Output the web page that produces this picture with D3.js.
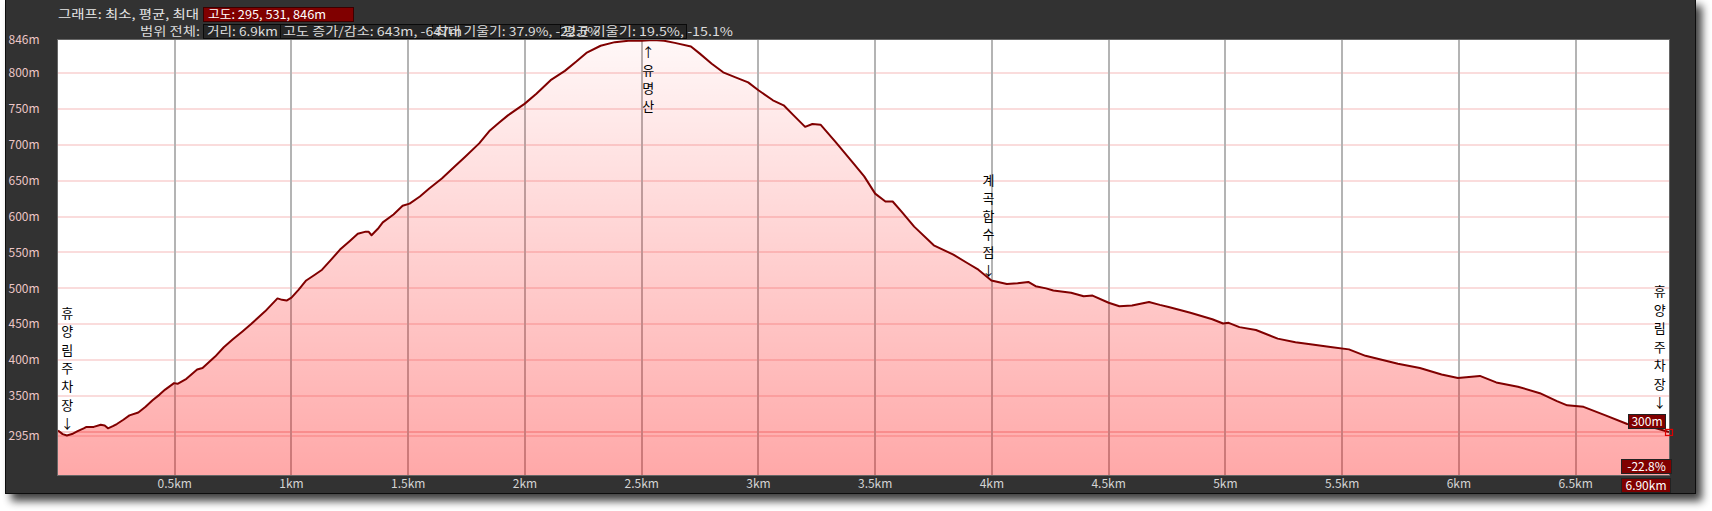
<!DOCTYPE html>
<html><head><meta charset="utf-8">
<script src="https://cdn.jsdelivr.net/npm/d3@7"></script>
<style>html,body{margin:0;padding:0;background:#fff;overflow:hidden}</style>
</head><body><svg id="c" width="1712" height="511"></svg>
<script>
// ---- data ----
const distKm = [0.000,0.020,0.038,0.060,0.084,0.110,0.122,0.153,0.183,0.200,0.214,0.235,0.252,0.280,0.306,0.344,0.375,0.405,0.435,0.459,0.497,0.512,0.550,0.596,0.619,0.673,0.710,0.749,0.790,0.826,0.860,0.887,0.940,0.960,0.979,1.000,1.030,1.063,1.100,1.131,1.170,1.208,1.250,1.284,1.318,1.330,1.343,1.370,1.391,1.437,1.476,1.506,1.550,1.590,1.644,1.700,1.743,1.804,1.850,1.890,1.927,1.998,2.049,2.110,2.171,2.220,2.263,2.324,2.385,2.443,2.500,2.550,2.596,2.642,2.711,2.749,2.800,2.849,2.902,2.956,3.000,3.062,3.108,3.154,3.200,3.231,3.266,3.330,3.407,3.453,3.500,3.544,3.575,3.613,3.667,3.751,3.835,3.896,3.942,3.998,4.064,4.110,4.156,4.187,4.232,4.263,4.339,4.393,4.431,4.500,4.546,4.600,4.673,4.719,4.757,4.850,4.944,4.990,5.014,5.060,5.131,5.224,5.300,5.364,5.458,5.529,5.600,5.739,5.833,5.926,5.996,6.090,6.160,6.253,6.347,6.420,6.464,6.534,6.628,6.721,6.815,6.900];
const elevM = [302,297,295,297,301,305,307,307,310,309,305,308,311,317,323,327,335,344,352,359,368,367,374,387,389,405,418,429,440,450,460,468,486,484,483,487,498,511,519,526,540,554,566,576,579,579,574,583,592,603,615,618,628,639,653,670,683,702,720,731,741,757,771,790,803,816,828,838,843,845,845,846,845,842,837,827,813,801,794,787,776,762,755,740,725,729,728,704,674,656,632,621,621,607,586,560,547,535,526,511,506,507,509,503,500,497,494,489,490,480,475,476,481,477,474,466,457,451,452,446,442,430,425,422,418,415,406,395,389,380,375,378,369,363,354,343,337,335,323,311,308,300];
const xTicks = [0.5,1,1.5,2,2.5,3,3.5,4,4.5,5,5.5,6,6.5];
const xTickLabels = ["0.5km","1km","1.5km","2km","2.5km","3km","3.5km","4km","4.5km","5km","5.5km","6km","6.5km"];
const yTicks = [295,350,400,450,500,550,600,650,700,750,800,846];
const yTickLabels = ["295m","350m","400m","450m","500m","550m","600m","650m","700m","750m","800m","846m"];
const yGrid = [295,300,350,400,450,500,550,600,650,700,750,800];
const annoText = ["휴양림주차장↓","↑유명산","계곡합수점↓","휴양림주차장↓"];
const annoKm = [0.04,2.528,3.985,6.86];
const header1 = ["그래프: 최소, 평균, 최대","고도: 295, 531, 846m"];
const header2 = ["범위 전체:","거리: 6.9km","고도 증가/감소: 643m, -647m","최대 기울기: 37.9%, -22.5%","평균 기울기: 19.5%, -15.1%"];
const endLabels = ["300m","-22.8%","6.90km"];
const endElev = 300;

// ---- layout ----
const FONT = "'Noto Sans CJK KR','Noto Sans',sans-serif";
const L = 58, R = 1669, T = 40, B = 475;
const svg = d3.select("#c");
const x = d3.scaleLinear().domain([0, 6.9]).range([L, R]);
const y = d3.scaleLinear().domain([240, 846]).range([B, T]);

const defs = svg.append("defs");
const f = defs.append("filter").attr("id","sh").attr("x","-5%").attr("y","-10%").attr("width","110%").attr("height","130%");
f.append("feGaussianBlur").attr("in","SourceAlpha").attr("stdDeviation",4);
f.append("feOffset").attr("dx",6).attr("dy",7).attr("result","b");
f.append("feComponentTransfer").append("feFuncA").attr("type","linear").attr("slope",0.75);
const m = f.append("feMerge"); m.append("feMergeNode"); m.append("feMergeNode").attr("in","SourceGraphic");

const g = defs.append("linearGradient").attr("id","fillg").attr("gradientUnits","userSpaceOnUse")
  .attr("x1",0).attr("y1",T).attr("x2",0).attr("y2",B);
g.append("stop").attr("offset","0").attr("stop-color","#ff0000").attr("stop-opacity",0.03);
g.append("stop").attr("offset","1").attr("stop-color","#ff0000").attr("stop-opacity",0.34);

// frame
svg.append("rect").attr("x",5.5).attr("y",-1).attr("width",1690).attr("height",494.5)
  .attr("fill","#333").attr("stroke","#111").attr("filter","url(#sh)");

// plot bg
svg.append("rect").attr("x",L).attr("y",T).attr("width",R-L).attr("height",B-T).attr("fill","#fff");

// grid
svg.append("g").selectAll("line").data(yGrid).join("line")
  .attr("x1",L).attr("x2",R).attr("y1",d=>Math.round(y(d))).attr("y2",d=>Math.round(y(d)))
  .attr("stroke",d=>d===300?"#f6cccc":"#fadcdc").attr("stroke-width",2);
svg.append("g").selectAll("line").data(xTicks).join("line")
  .attr("x1",d=>Math.round(x(d))).attr("x2",d=>Math.round(x(d))).attr("y1",T).attr("y2",B)
  .attr("stroke","#b4b4b4").attr("stroke-width",2);

// area + line
const pts = distKm.map((d,i)=>[d, elevM[i]]);
svg.append("path").datum(pts).attr("fill","url(#fillg)")
  .attr("d", d3.area().x(d=>x(d[0])).y0(B).y1(d=>y(d[1])));
svg.append("path").datum(pts).attr("fill","none").attr("stroke","#800000").attr("stroke-width",2)
  .attr("stroke-linejoin","round")
  .attr("d", d3.line().x(d=>x(d[0])).y(d=>y(d[1])));

// plot border
svg.append("rect").attr("x",L-0.5).attr("y",T-0.5).attr("width",R-L+1).attr("height",B-T+1)
  .attr("fill","none").attr("stroke","#666");

// y labels
svg.append("g").selectAll("text").data(yTicks).join("text")
  .attr("x",8.5).attr("y",d=>y(d)).attr("dy","0.35em")
  .attr("font-family",FONT).attr("font-size",12).attr("fill","#ecc6c6")
  .text((d,i)=>yTickLabels[i]);

// x labels
svg.append("g").selectAll("text").data(xTicks).join("text")
  .attr("x",d=>x(d)).attr("y",484).attr("dy","0.35em").attr("text-anchor","middle")
  .attr("font-family",FONT).attr("font-size",12).attr("fill","#d4d4d4")
  .text((d,i)=>xTickLabels[i]);

// annotations (vertical stacked characters)
const annoTop = [313.5, 52, 180, 291.7];
const annoStep = [18.3, 18.3, 18, 18.5];
annoText.forEach((t,k)=>{
  const chars = Array.from(t);
  svg.append("g").selectAll("text").data(chars).join("text")
    .attr("x", x(annoKm[k])).attr("y",(c,i)=>annoTop[k]+i*annoStep[k]).attr("dy","0.35em")
    .attr("text-anchor","middle").attr("font-family",FONT).attr("font-size",13).attr("fill","#000")
    .text(c=>c);
});

// header line 1
svg.append("text").attr("x",58).attr("y",18.5).attr("font-family",FONT).attr("font-size",12)
  .attr("fill","#e6e6e6").attr("textLength",141).attr("lengthAdjust","spacingAndGlyphs").text(header1[0]);
svg.append("rect").attr("x",203.5).attr("y",7.5).attr("width",150).attr("height",14)
  .attr("fill","#800000").attr("stroke","#3a0000");
svg.append("text").attr("x",208).attr("y",18.5).attr("font-family",FONT).attr("font-size",12)
  .attr("fill","#fff").attr("textLength",118).attr("lengthAdjust","spacingAndGlyphs").text(header1[1]);

// header line 2
const boxX = [203,280,432,560,686];
for (let i=0;i<4;i++){
  svg.append("rect").attr("x",boxX[i]+0.5).attr("y",24.5).attr("width",boxX[i+1]-boxX[i]).attr("height",14)
    .attr("fill","#262626").attr("stroke","#0a0a0a");
}
const h2x = [140,207,283,435,563];
const h2w = [60,71,179,165,170];
header2.forEach((t,i)=>{
  svg.append("text").attr("x",h2x[i]).attr("y",35.5).attr("font-family",FONT).attr("font-size",12)
    .attr("fill","#dcdcdc").attr("textLength",h2w[i]).attr("lengthAdjust","spacingAndGlyphs").text(t);
});

// end labels
const endBoxes = [[1628,414,37],[1621,459,50],[1621,478,49]];
endBoxes.forEach((b,i)=>{
  svg.append("rect").attr("x",b[0]+0.5).attr("y",b[1]+0.5).attr("width",b[2]).attr("height",14)
    .attr("fill","#800000").attr("stroke","#222");
  svg.append("text").attr("x",b[0]+b[2]/2+0.5).attr("y",b[1]+7.5).attr("dy","0.35em").attr("text-anchor","middle")
    .attr("font-family",FONT).attr("font-size",12).attr("fill","#fff").text(endLabels[i]);
});
// end marker
svg.append("rect").attr("x",x(6.9)-3.5).attr("y",y(endElev)-2.5).attr("width",7).attr("height",6)
  .attr("fill","none").attr("stroke","#e00000").attr("stroke-width",1.2);
</script></body></html>
